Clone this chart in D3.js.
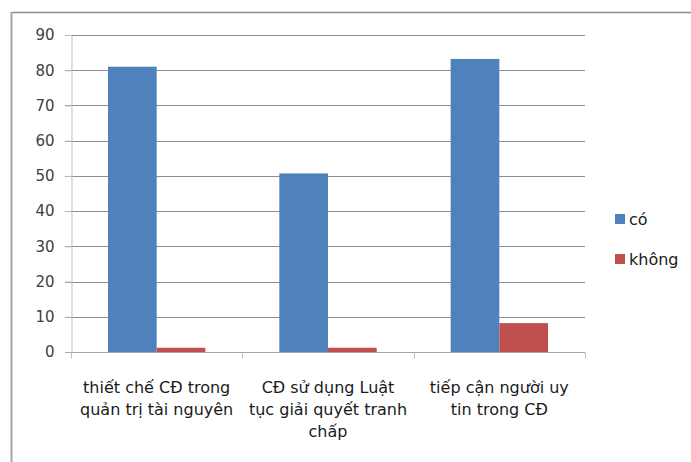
<!DOCTYPE html>
<html>
<head>
<meta charset="utf-8">
<script src="https://cdn.jsdelivr.net/npm/d3@7"></script>
<style>
  html, body { margin: 0; padding: 0; background: #fff; }
  svg { display: block; font-family: "DejaVu Sans", Verdana, sans-serif; }
</style>
</head>
<body>
<svg id="chart" width="691" height="462"></svg>
<script>
// Categories (each label split into its display lines)
const categories = [
  "thiết chế CĐ trong quản trị tài nguyên",
  "CĐ sử dụng Luật tục giải quyết tranh chấp",
  "tiếp cận người uy tin trong CĐ"
];
const categoryLines = [
  ["thiết chế CĐ trong", "quản trị tài nguyên"],
  ["CĐ sử dụng Luật", "tục giải quyết tranh", "chấp"],
  ["tiếp cận người uy", "tin trong CĐ"]
];
const seriesNames = ["có", "không"];
const coValues = [81, 50.7, 83.2];
const khongValues = [1.2, 1.2, 8.2];
const yTicks = [0, 10, 20, 30, 40, 50, 60, 70, 80, 90];
const colors = ["#4F81BD", "#C0504D"];

const svg = d3.select("#chart");
const W = 691, H = 462;

// Chart frame (top and left edges visible)
svg.append("line").attr("x1", 11.5).attr("x2", W).attr("y1", 12.5).attr("y2", 12.5)
  .attr("stroke", "#8c8c8c").attr("stroke-width", 1.5);
svg.append("line").attr("x1", 11.5).attr("x2", 11.5).attr("y1", 12).attr("y2", H)
  .attr("stroke", "#a6a6a6").attr("stroke-width", 2);

const plot = { left: 71, right: 585, top: 35, bottom: 352 };

const x0 = d3.scaleBand().domain(categories).range([plot.left, plot.right]).paddingInner(0).paddingOuter(0);
const x1 = d3.scaleBand().domain(seriesNames).range([0, x0.bandwidth()]).paddingInner(0).paddingOuter(0.76);
const y = d3.scaleLinear().domain([0, 90]).range([plot.bottom, plot.top]);

// Horizontal gridlines
svg.append("g").selectAll("line").data(yTicks.filter(d => d > 0)).join("line")
  .attr("x1", plot.left - 6).attr("x2", plot.right)
  .attr("y1", d => Math.round(y(d)) + 0.5).attr("y2", d => Math.round(y(d)) + 0.5)
  .attr("stroke", "#8e8e8e").attr("stroke-width", 1);

// Y axis
const yAxis = svg.append("g").attr("transform", `translate(${plot.left + 0.5},0)`)
  .call(d3.axisLeft(y).tickValues(yTicks).tickSize(6).tickPadding(11).tickFormat(d3.format("d")));
yAxis.select(".domain").attr("stroke", "#bfbfbf");
yAxis.selectAll(".tick line").attr("stroke", "#bfbfbf");
yAxis.selectAll(".tick text").attr("fill", "#404040").attr("font-size", 15)
  .attr("font-family", "'DejaVu Sans', Verdana, sans-serif");

// Bars
const groups = svg.append("g").selectAll("g").data(categories).join("g")
  .attr("transform", d => `translate(${x0(d)},0)`);
groups.selectAll("rect")
  .data((d, i) => [
    { s: seriesNames[0], v: coValues[i], c: colors[0] },
    { s: seriesNames[1], v: khongValues[i], c: colors[1] }
  ])
  .join("rect")
  .attr("x", d => x1(d.s))
  .attr("width", x1.bandwidth())
  .attr("y", d => y(d.v))
  .attr("height", d => y(0) - y(d.v))
  .attr("fill", d => d.c);

// X axis
const xAxis = svg.append("g").attr("transform", `translate(0,${plot.bottom + 0.5})`);
xAxis.append("line").attr("x1", plot.left - 6).attr("x2", plot.right)
  .attr("stroke", "#a6a6a6");
const boundaries = categories.map(c => x0(c)).concat([plot.right]);
xAxis.selectAll("line.tk").data(boundaries).join("line").attr("class", "tk")
  .attr("x1", d => Math.round(d) + 0.5).attr("x2", d => Math.round(d) + 0.5)
  .attr("y1", 0).attr("y2", 6).attr("stroke", "#bfbfbf");

// Category labels
const labels = svg.append("g").selectAll("text").data(categories).join("text")
  .attr("x", d => x0(d) + x0.bandwidth() / 2)
  .attr("y", 393)
  .attr("text-anchor", "middle")
  .attr("font-size", 16)
  .attr("fill", "#1a1a1a");
labels.each(function(d, i) {
  d3.select(this).selectAll("tspan").data(categoryLines[i]).join("tspan")
    .attr("x", x0(d) + x0.bandwidth() / 2)
    .attr("dy", (t, j) => j === 0 ? 0 : 22)
    .text(t => t);
});

// Legend
const legend = svg.append("g").attr("transform", "translate(615,0)");
seriesNames.forEach((s, i) => {
  const cy = 219 + i * 40;
  legend.append("rect").attr("x", 0).attr("y", cy - 5).attr("width", 10).attr("height", 10).attr("fill", colors[i]);
  legend.append("text").attr("x", 14).attr("y", cy + 6).attr("font-size", 16).attr("fill", "#1a1a1a").text(s);
});
</script>
</body>
</html>
